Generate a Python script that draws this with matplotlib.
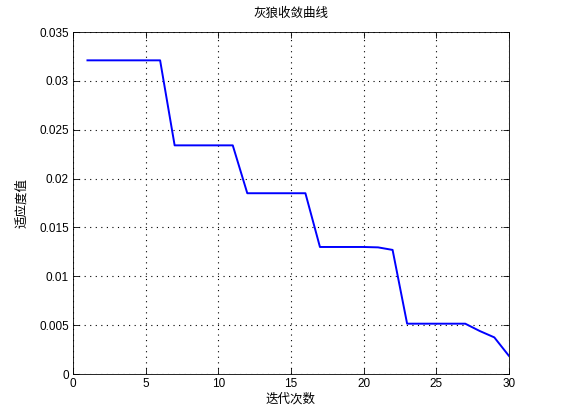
import matplotlib
matplotlib.use("Agg")
import matplotlib.pyplot as plt

plt.rcParams['font.family'] = ['Noto Sans CJK SC', 'DejaVu Sans']

iterations = list(range(1, 31))
fitness = [0.0321, 0.0321, 0.0321, 0.0321, 0.0321, 0.0321,
           0.0234, 0.0234, 0.0234, 0.0234, 0.0234,
           0.0185, 0.0185, 0.0185, 0.0185, 0.0185,
           0.0130, 0.0130, 0.0130, 0.0130, 0.01296,
           0.0127,
           0.00515, 0.00515, 0.00515, 0.00515, 0.00515,
           0.0044, 0.00375, 0.00187]
xticks = [0, 5, 10, 15, 20, 25, 30]
yticks = [0, 0.005, 0.01, 0.015, 0.02, 0.025, 0.03, 0.035]
yticklabels = ['0', '0.005', '0.01', '0.015', '0.02', '0.025', '0.03', '0.035']

fig = plt.figure(figsize=(5.61, 4.20), dpi=100)
ax = fig.add_axes([0.130, 0.1095, 0.777, 0.8143])
ax.plot(iterations, fitness, color='#0000ff', linewidth=1.4)
ax.set_xlim(0, 30)
ax.set_ylim(0, 0.035)
ax.set_xticks(xticks)
ax.set_yticks(yticks)
ax.set_yticklabels(yticklabels)
ax.grid(True, linestyle=(0, (1, 4)), color='black', linewidth=0.8)
ax.tick_params(direction='in', top=True, right=True, labelsize=8.5, length=4, width=0.6, pad=3)
for lab in ax.get_xticklabels() + ax.get_yticklabels():
    lab.set_fontfamily('Liberation Sans')
for s in ax.spines.values():
    s.set_linewidth(0.6)
ax.set_title('灰狼收敛曲线', fontsize=9, pad=11)
ax.set_xlabel('迭代次数', fontsize=9, labelpad=2)
ax.set_ylabel('适应度值', fontsize=9, labelpad=8)
fig.savefig('out.png', dpi=100)
